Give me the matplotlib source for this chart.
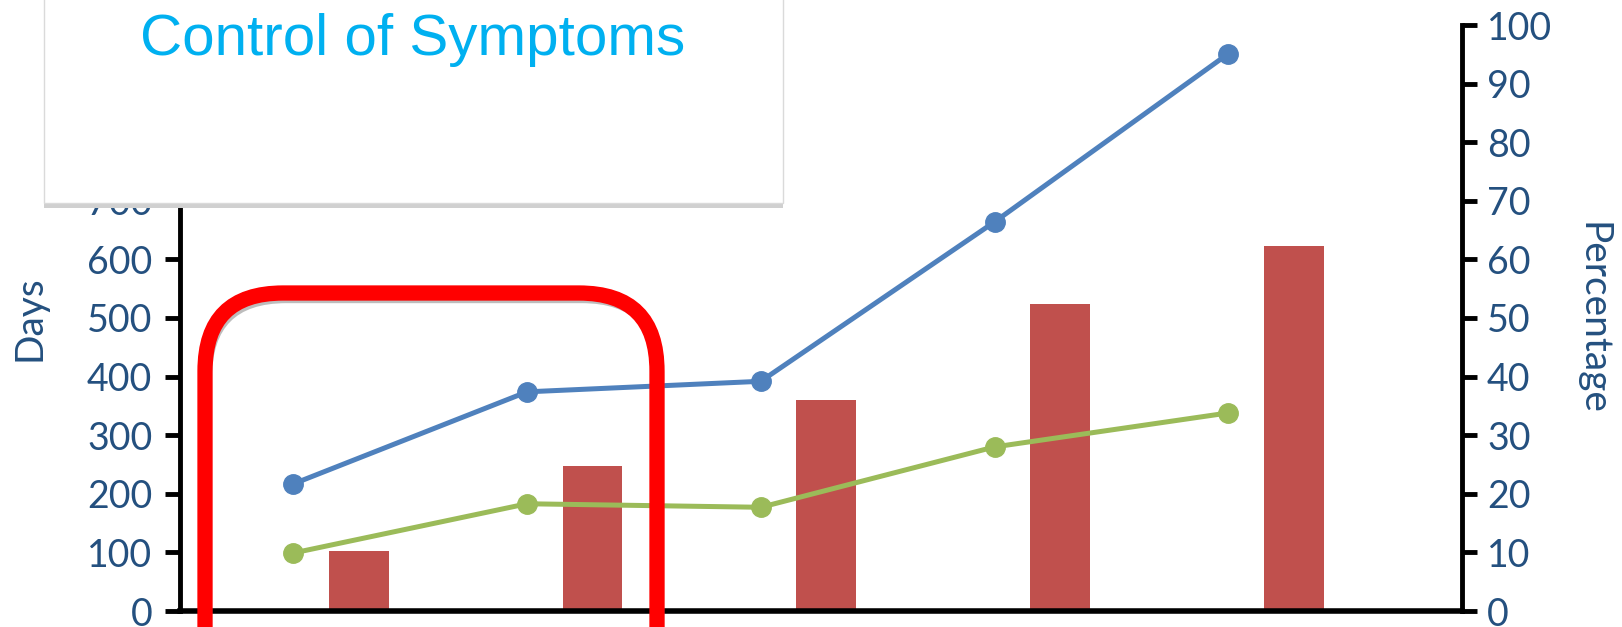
import matplotlib
matplotlib.use("Agg")
import matplotlib.pyplot as plt
from matplotlib.patches import FancyBboxPatch, Rectangle

# data
categories = ["1", "2", "3", "4", "5"]
days = [102, 247, 360, 524, 623]
pct_blue = [21.7, 37.4, 39.2, 66.4, 95.1]
pct_green = [9.9, 18.3, 17.7, 28.0, 33.8]

label_col = "#24507F"
plt.rcParams["font.family"] = ["Lato", "DejaVu Sans"]

fig = plt.figure(figsize=(16.22, 6.27), dpi=100)
ax = fig.add_axes([180 / 1622, 16 / 627, 1282 / 1622, 586 / 627])
ax2 = ax.twinx()

x = list(range(len(categories)))
ax.bar([i + 0.28 for i in x], days, width=0.256, color="#C0504D", zorder=2)
ax.set_ylim(0, 1000)
# ticks above 700 are hidden under the title box
ax.set_yticks(range(0, 701, 100))
ax.set_xlim(-0.485, 5.0)
ax.set_xticks([])

ax2.plot(x, pct_blue, color="#4F81BD", lw=3.6, marker="o", ms=14)
ax2.plot(x, pct_green, color="#9BBB59", lw=3.6, marker="o", ms=14)
ax2.set_ylim(0, 100)
ax2.set_yticks(range(0, 101, 10))

for a in (ax, ax2):
    for s in a.spines.values():
        s.set_visible(False)
    a.tick_params(axis="y", length=11, width=3.5, color="black",
                  labelsize=27, labelcolor=label_col)
ax.tick_params(axis="y", pad=9)
ax2.tick_params(axis="y", pad=7)
ax.spines["left"].set_visible(True)
ax.spines["left"].set_linewidth(3.5)
ax.spines["bottom"].set_visible(True)
ax.spines["bottom"].set_linewidth(4)
ax2.spines["right"].set_visible(True)
ax2.spines["right"].set_linewidth(3.5)

ax.set_ylabel("Days", fontsize=28, color=label_col, labelpad=28)
ax2.set_ylabel("Percentage", fontsize=28, color=label_col, rotation=270,
               labelpad=42)

# red rounded highlight frame (display pixels)
shadow = FancyBboxPatch((208, -120), 452, 448,
                        boxstyle="round,pad=0,rounding_size=78",
                        fill=False, ec="#BDBDBD", lw=6, transform=None, zorder=4)
fig.add_artist(shadow)
frame = FancyBboxPatch((205, -120), 452, 454,
                       boxstyle="round,pad=0,rounding_size=78",
                       fill=False, ec="#FF0000", lw=11, transform=None, zorder=5)
fig.add_artist(frame)

# title box
fig.add_artist(Rectangle((44, 419), 739, 220, transform=None,
                         fc="#D0D0D0", ec="none", zorder=6))
fig.add_artist(Rectangle((44, 424), 739, 215, transform=None,
                         fc="white", ec="#DADADA", lw=1, zorder=7))
fig.text(413 / 1622, 1 - 40 / 627, "Control of Symptoms", fontsize=42,
         color="#00B0F0", family="Liberation Sans", ha="center", va="center",
         zorder=8)

fig.savefig("out.png", dpi=100)
